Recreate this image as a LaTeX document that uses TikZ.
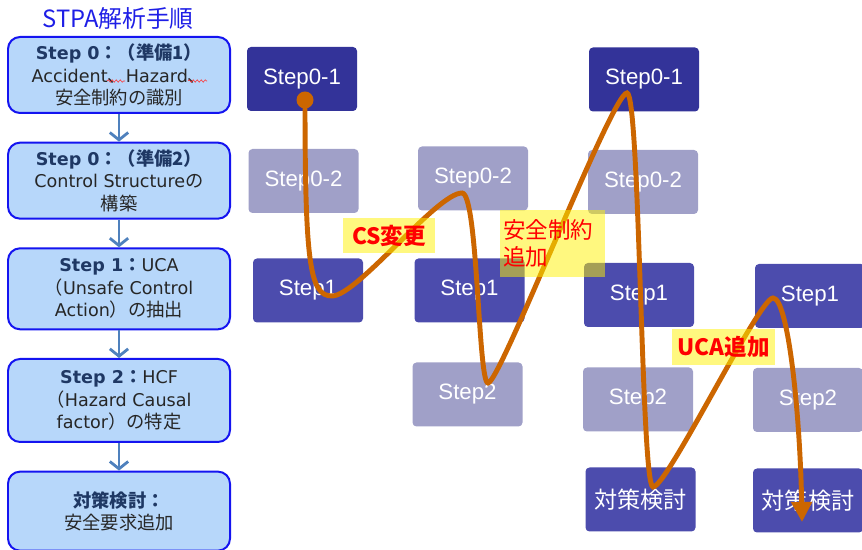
\documentclass[tikz,border=0pt]{standalone}
\usepackage{fontspec}
\setmainfont{DejaVu Sans}
\newfontfamily\jp[Scale=1.04]{Noto Sans CJK JP}
\newfontfamily\arial{Liberation Sans}
\usetikzlibrary{arrows.meta,positioning,decorations.pathmorphing}
\definecolor{boxblue}{RGB}{183,215,250}
\definecolor{edgeblue}{RGB}{20,20,240}
\definecolor{arrowblue}{RGB}{79,129,189}
\definecolor{headnavy}{RGB}{31,56,100}
\definecolor{titleblue}{RGB}{30,30,230}
\definecolor{navy}{RGB}{51,51,153}
\definecolor{midblue}{RGB}{76,76,173}
\definecolor{paleblue}{RGB}{160,160,200}
\definecolor{rust}{RGB}{204,102,0}
\newcommand{\hd}[1]{{\bfseries\color{headnavy}#1}}
\tikzset{
  ttl/.style   = { text=titleblue, font=\jp\fontsize{19.5}{22}\selectfont },
  proc/.style  = { draw=edgeblue, line width=1.7pt, fill=boxblue, rounded corners=3.6mm,
    minimum width=66.6mm, minimum height=#1, align=center, text=black!85,
    font=\fontsize{15}{19.2}\selectfont },
  proc/.default = 22.8mm,
  flow/.style  = { draw=arrowblue, line width=2.4pt, -{Straight Barb[length=2.2mm,width=5.5mm]} },
  blk/.style   = { rounded corners=1.2mm, minimum width=33mm, minimum height=19.2mm,
    text=white, font=\arial\fontsize{19}{22}\selectfont },
  stepdark/.style  = { blk, fill=navy },
  stepmid/.style   = { blk, fill=midblue },
  steplight/.style = { blk, fill=paleblue },
  route/.style = { draw=rust, line width=4.2pt, -{Triangle[length=6mm,width=6mm]} },
  tag/.style   = { fill=yellow, fill opacity=0.5, text opacity=1, text=red, inner sep=0pt,
    font=\jp\bfseries\fontsize{18.5}{22.5}\selectfont },
  squig/.style = { draw=red!80, line width=0.5pt, decorate,
    decoration={snake, amplitude=0.35mm, segment length=1.2mm} }
}

\begin{document}
\begin{tikzpicture}[x=0.3mm,y=0.3mm]
  \useasboundingbox (0,0) rectangle (862,550);

  % procedure column
  \node[ttl] (title) at (118,532) {STPA解析手順};
  \node[proc] (s0a) at (119,475) {\hd{Step 0\jp：（準備1）}\\Accident{\jp 、}Hazard{\jp 、}\\{\jp 安全制約の識別}};
  \node[proc, below=8.3mm of s0a] (s0b) {\hd{Step 0\jp：（準備2）}\\Control Structure{\jp の}\\{\jp 構築}};
  \node[proc=24.3mm, below=8.3mm of s0b] (s1) {\hd{Step 1\jp：}UCA\\{\jp （}Unsafe Control\\Action{\jp ）の抽出}};
  \node[proc=24.9mm, below=8.3mm of s1] (s2) {\hd{Step 2\jp：}HCF\\{\jp （}Hazard Causal\\factor{\jp ）の特定}};
  \node[proc=23.7mm, below=8.3mm of s2] (cm) {{\jp\hd{対策検討：}}\\{\jp 安全要求追加}};
  \draw[flow] (s0a) -- (s0b);
  \draw[flow] (s0b) -- (s1);
  \draw[flow] (s1) -- (s2);
  \draw[flow] (s2) -- (cm);
  \draw[squig] (107,469) -- (125,469);
  \draw[squig] (188,469) -- (207,469);

  % iterations
  \node[stepdark]  (c1a) at (302,471)   {Step0-1};
  \node[steplight] (c1b) at (303.5,369) {Step0-2};
  \node[stepmid]   (c1c) at (308,259.5) {Step1};

  \node[steplight] (c2b) at (473,371.5) {Step0-2};
  \node[stepmid]   (c2c) at (469.5,259.5) {Step1};
  \node[steplight] (c2d) at (467.5,155.5) {Step2};

  \node[stepdark]  (c3a) at (644,470.5) {Step0-1};
  \node[steplight] (c3b) at (643,368)   {Step0-2};
  \node[stepmid]   (c3c) at (639,255)   {Step1};
  \node[steplight] (c3d) at (638,150.5) {Step2};
  \node[stepmid]   (c3e) at (640.5,50.5) {\jp 対策検討};

  \node[stepmid]   (c4c) at (810,254)   {Step1};
  \node[steplight] (c4d) at (808,150)   {Step2};
  \node[stepmid]   (c4e) at (808,49.5)  {\jp 対策検討};

  % the path through the steps
  \coordinate (w0) at (305,450);
  \coordinate (w1) at (332,254);
  \coordinate (w2) at (462,357);
  \coordinate (w3) at (488,167);
  \coordinate (w4) at (627,457);
  \coordinate (w5) at (653,63);
  \coordinate (w6) at (773,252);
  \coordinate (w7) at (802,28);
  \draw[route] (w0) .. controls +(0,-165) and +(-22,0) .. (w1)
    .. controls +(25,0) and +(-25,0) .. (w2)
    .. controls +(16,0) and +(-10,0) .. (w3)
    .. controls +(12,0) and +(-15,0) .. (w4)
    .. controls +(13,0) and +(-12,0) .. (w5)
    .. controls +(14,0) and +(-14,0) .. (w6)
    .. controls +(15,0) and +(-2,110) .. (w7);
  \fill[rust] (w0) circle[radius=8.5];

  % notes on the path
  \node[tag, minimum width=27.6mm, minimum height=10.5mm] (cs) at (389,314.5) {CS変更};
  \node[tag, text width=29.5mm, minimum height=20.1mm, inner xsep=1mm, align=left,
    font=\jp\fontsize{18.5}{23}\selectfont] (safe) at (552.5,306.5) {安全制約\\追加};
  \node[tag, minimum width=30.9mm, minimum height=10.8mm] (uca) at (723.5,203) {UCA追加};
\end{tikzpicture}
\end{document}
